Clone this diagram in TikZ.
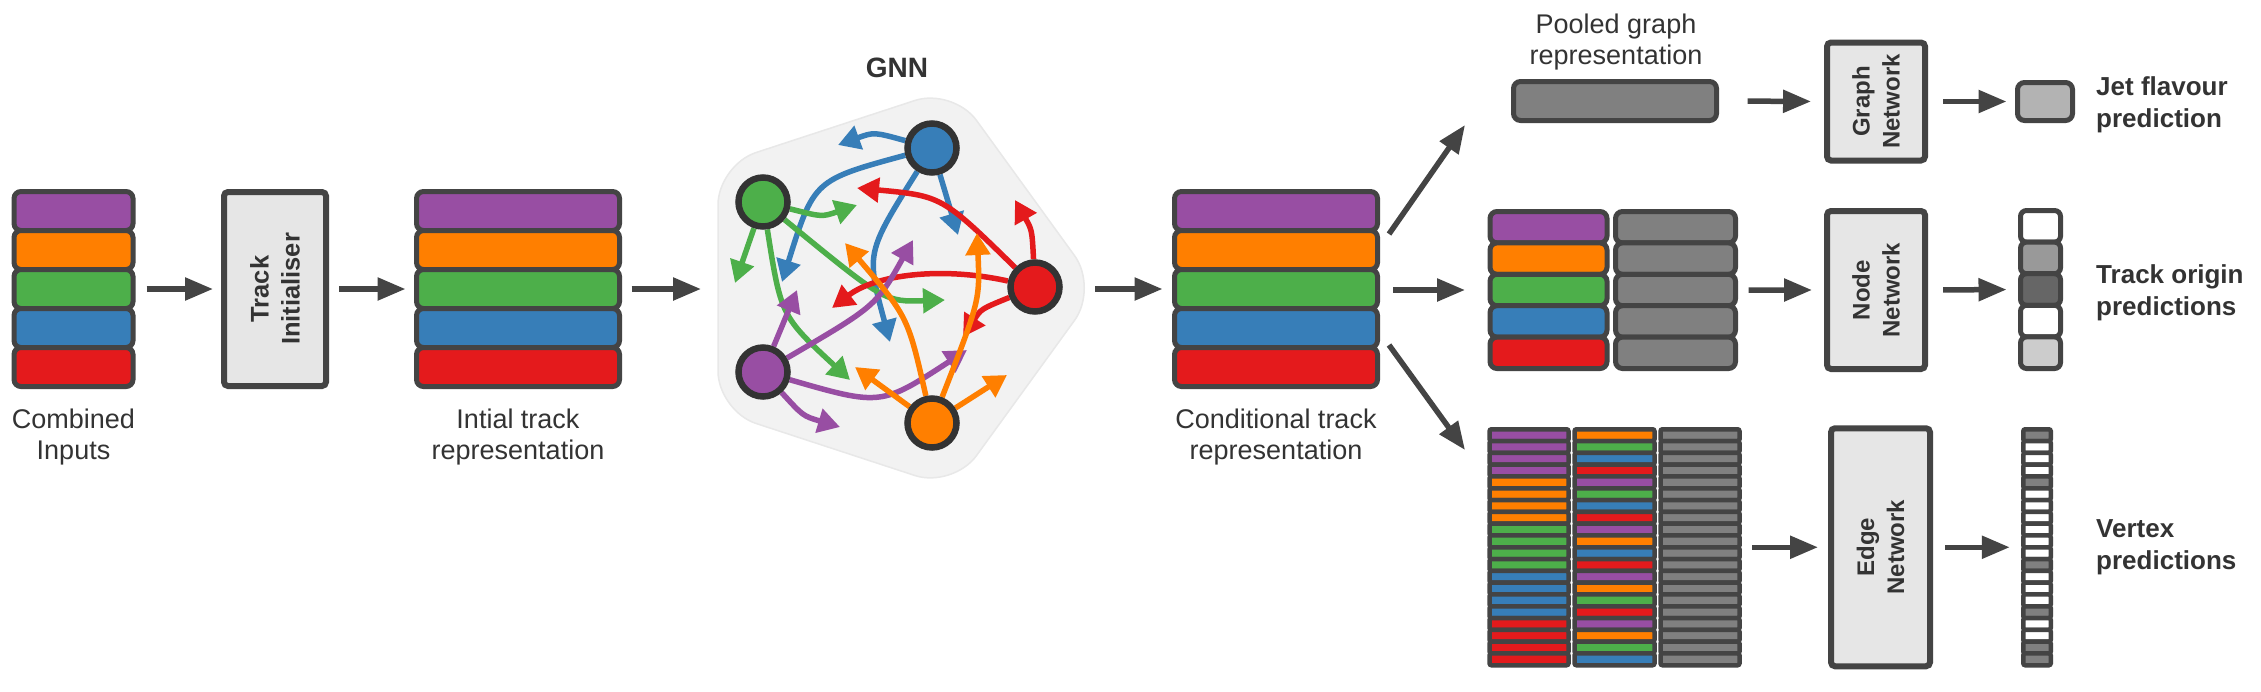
\documentclass[tikz,border=0pt]{standalone}
\usepackage{fontspec}
\setmainfont{Liberation Sans}
\usetikzlibrary{arrows.meta,calc}
\definecolor{cP}{HTML}{984EA3}
\definecolor{cO}{HTML}{FF7F00}
\definecolor{cG}{HTML}{4DAF4A}
\definecolor{cB}{HTML}{377EB8}
\definecolor{cR}{HTML}{E41A1C}
\definecolor{dk}{HTML}{444444}
\definecolor{nodeb}{HTML}{333333}
\definecolor{txt}{HTML}{333333}
\definecolor{gbar}{HTML}{808080}
\definecolor{boxf}{HTML}{E6E6E6}
\definecolor{pent}{HTML}{F2F2F2}
\definecolor{pentb}{HTML}{E8E8E8}
\definecolor{gA}{HTML}{999999}
\definecolor{gB}{HTML}{666666}
\definecolor{gC}{HTML}{CCCCCC}
\definecolor{gJ}{HTML}{B3B3B3}
\pgfdeclarelayer{bg}
\pgfsetlayers{bg,main}
\begin{document}
\begin{tikzpicture}[x=1pt,y=-1pt,
  lbl/.style={font=\fontsize{27}{31}\selectfont, text=txt, align=center, inner sep=0pt, anchor=north},
  blbl/.style={font=\fontsize{26}{32}\selectfont\bfseries, text=txt, align=left, inner sep=0pt, anchor=north west},
  rlbl/.style={font=\fontsize{24}{30}\selectfont\bfseries, text=txt, align=center, rotate=90, inner sep=0pt},
  netbox/.style={draw=dk, fill=boxf, line width=6pt, rounded corners=4pt, inner sep=0pt},
  sbar/.style={draw=dk, line width=5pt, rounded corners=7pt, inner sep=0pt},
  ebar/.style={draw=dk, line width=4.5pt, rounded corners=2pt, inner sep=0pt, minimum height=11.8pt},
  conn/.style={draw=dk, line width=5.5pt, -{Triangle[length=28pt,width=22pt]}},
  garr/.style={line width=5.5pt, -{Triangle[length=22pt,width=24pt]}},
  gnode/.style={circle, draw=nodeb, line width=6.5pt, minimum size=49pt, inner sep=0pt},
]
\useasboundingbox (0,0) rectangle (2261,691);

% ---------- left stacks and initialiser ----------
\foreach \c [count=\i from 0] in {cP,cO,cG,cB,cR}{
  \node[sbar, fill=\c, minimum width=119pt, minimum height=39pt] (ci\i) at (73.5, 211+39*\i) {};
  \node[sbar, fill=\c, minimum width=203pt, minimum height=39pt] (ir\i) at (518, 211+39*\i) {};
  \node[sbar, fill=\c, minimum width=203pt, minimum height=39pt] (ct\i) at (1276, 211+39*\i) {};
}
\node[netbox, minimum width=102pt, minimum height=194pt] (ti) at (275,289) {};
\node[rlbl, font=\fontsize{25.5}{31}\selectfont\bfseries] (tiL) at (ti.center) {Track\\Initialiser};

\node[lbl] (lci) at (73.5,409) {Combined\\Inputs};
\node[lbl] (lir) at (518,409) {Intial track\\representation};
\node[lbl] (lct) at (1276,409) {Conditional track\\representation};

\draw[conn, shorten <=11pt, shorten >=8pt] (ci2.east) -- (ti.west);
\draw[conn, shorten <=10pt, shorten >=8.5pt] (ti.east) -- (ir2.west);

% ---------- GNN ----------
\coordinate (pM) at (718,288);
\coordinate (pR) at (1098,288);
\coordinate (pT) at (953,88);
\coordinate (pUL) at (718,165);
\coordinate (pLL) at (718,411);
\coordinate (pB) at (953,488);
\coordinate (gnnW) at (718,289);
\coordinate (gnnE) at (1095,289);

\node[gnode, fill=cB] (B) at (932,148) {};
\node[gnode, fill=cG] (G) at (763,202) {};
\node[gnode, fill=cR] (R) at (1035,287) {};
\node[gnode, fill=cP] (P) at (763,372) {};
\node[gnode, fill=cO] (O) at (932,423) {};
\node[font=\fontsize{28}{30}\selectfont\bfseries, text=txt] (gnnlbl) at (897,68) {GNN};

\begin{pgfonlayer}{bg}
\fill[white] (0,0) rectangle (2261,691);
\filldraw[fill=pent, draw=pentb, line width=1.5pt, rounded corners=40pt]
  (pM) -- (pLL) -- (pB) -- (pR) -- (pT) -- (pUL) -- cycle;
% blue
\draw[garr, cB] (B) .. controls (874,132) .. (838,145);
\draw[garr, cB] (B) .. controls (814,180) .. (782,282);
\draw[garr, cB] (B) .. controls (866,253) .. (890,342);
\draw[garr, cB] (B) -- (958,235);
% green
\draw[garr, cG] (G) .. controls (822,217) .. (857,205);
\draw[garr, cG] (G) -- (735,283);
\draw[garr, cG] (G) .. controls (885,302) .. (945,300);
\draw[garr, cG] (G) .. controls (781,316) .. (850,380);
% red
\draw[garr, cR] (R) .. controls (1032,230) .. (1015,200);
\draw[garr, cR] (R) .. controls (942,196) .. (857,188);
\draw[garr, cR] (R) .. controls (940,266) and (875,275) .. (832,308);
\draw[garr, cR] (R) .. controls (981,309) .. (963,337);
% purple
\draw[garr, cP] (P) -- (797,290);
\draw[garr, cP] (P) .. controls (876,306) .. (913,240);
\draw[garr, cP] (P) .. controls (881,406) .. (967,350);
\draw[garr, cP] (P) .. controls (803,416) .. (840,427);
% orange
\draw[garr, cO] (O) -- (855,367);
\draw[garr, cO] (O) .. controls (908,317) .. (845,243);
\draw[garr, cO] (O) .. controls (980,300) .. (977,233);
\draw[garr, cO] (O) -- (1007,375);
\end{pgfonlayer}

\draw[conn, shorten <=9.5pt, shorten >=17pt] (ir2.east) -- (gnnW);
\draw[conn, shorten >=9.5pt] (gnnE) -- (ct2.west);

% ---------- branches ----------
\coordinate (upS) at (1389,234);
\coordinate (upE) at (1465,125);
\coordinate (mdS) at (1393,290);
\coordinate (mdE) at (1465,290);
\coordinate (dnS) at (1389,345);
\coordinate (dnE) at (1465,450);
\draw[conn] (upS) -- (upE);
\draw[conn] (mdS) -- (mdE);
\draw[conn] (dnS) -- (dnE);

% top row: pooled graph
\node[sbar, fill=gbar, minimum width=203pt, minimum height=39pt] (pool) at (1615,101) {};
\node[lbl] (lpool) at (1616,14) {Pooled graph\\representation};
\node[netbox, minimum width=98pt, minimum height=118pt] (gn) at (1876,101.5) {};
\node[rlbl] (gnL) at (gn.center) {Graph\\Network};
\node[sbar, fill=gJ, minimum width=55pt, minimum height=38pt] (jet) at (2045,101.5) {};
\node[blbl] (ljet) at (2096,76) {Jet flavour\\prediction};
\draw[conn, shorten <=28.5pt, shorten >=13pt] (pool.east) -- (gn.west);
\draw[conn, shorten <=15pt, shorten >=8.5pt] (gn.east) -- (jet.west);

% middle row: node network
\foreach \c [count=\i from 0] in {cP,cO,cG,cB,cR}{
  \node[sbar, fill=\c, minimum width=117pt, minimum height=31.4pt] (nc\i) at (1548.5, 227.2+31.4*\i) {};
  \node[sbar, fill=gbar, minimum width=120pt, minimum height=31.4pt] (ng\i) at (1675.5, 227.2+31.4*\i) {};
}
\node[netbox, minimum width=98pt, minimum height=158pt] (nn) at (1876,290) {};
\node[rlbl] (nnL) at (nn.center) {Node\\Network};
\foreach \c [count=\i from 0] in {white,gA,gB,white,gC}{
  \node[sbar, fill=\c, minimum width=40pt, minimum height=31.6pt, rounded corners=6pt] (no\i) at (2040.5, 226.3+31.6*\i) {};
}
\node[blbl] (ltrk) at (2096,264) {Track origin\\predictions};
\draw[conn, shorten <=10.5pt, shorten >=12pt] (ng2.east) -- (nn.west);
\draw[conn, shorten <=15pt, shorten >=11.5pt] (nn.east) -- (no2.west);

% bottom row: edge network
\foreach \c [count=\i from 0] in {cP,cP,cP,cP,cO,cO,cO,cO,cG,cG,cG,cG,cB,cB,cB,cB,cR,cR,cR,cR}{
  \node[ebar, fill=\c, minimum width=79pt] (ea\i) at (1529, 435.15+11.8*\i) {};
}
\foreach \c [count=\i from 0] in {cO,cG,cB,cR,cP,cG,cB,cR,cP,cO,cB,cR,cP,cO,cG,cR,cP,cO,cG,cB}{
  \node[ebar, fill=\c, minimum width=80pt] (eb\i) at (1614.5, 435.15+11.8*\i) {};
}
\foreach \i in {0,...,19}{
  \node[ebar, fill=gbar, minimum width=79pt] (ec\i) at (1700, 435.15+11.8*\i) {};
}
\foreach \c [count=\i from 0] in {gbar,white,white,white,gbar,white,white,white,white,white,white,gbar,white,white,white,gbar,white,white,gbar,gbar}{
  \node[ebar, fill=\c, minimum width=27.5pt] (v\i) at (2037, 435.15+11.8*\i) {};
}
\node[netbox, minimum width=99pt, minimum height=238pt] (en) at (1880.5,547.25) {};
\node[rlbl] (enL) at (en.center) {Edge\\Network};
\node[blbl] (lvtx) at (2096,519) {Vertex\\predictions};
\draw[conn, shorten <=10.5pt, shorten >=10pt] ($(ec9.east)!.5!(ec10.east)$) -- (en.west);
\draw[conn, shorten <=12pt, shorten >=11.25pt] (en.east) -- ($(v9.west)!.5!(v10.west)$);
\end{tikzpicture}
\end{document}
